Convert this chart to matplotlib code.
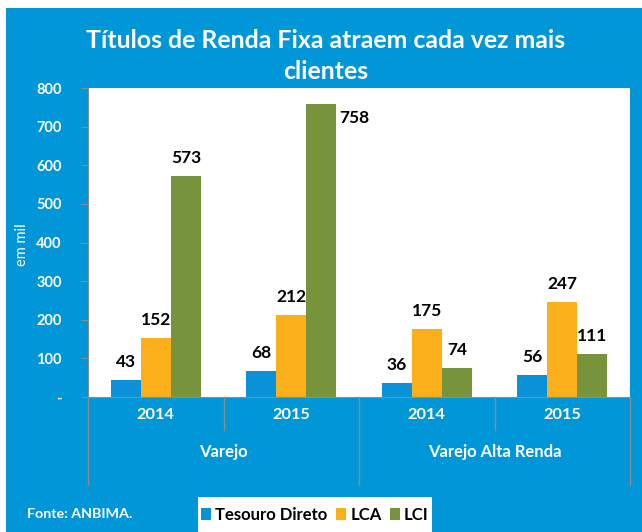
import matplotlib
matplotlib.use("Agg")
import matplotlib.pyplot as plt
from matplotlib.patches import Rectangle, Patch
from matplotlib.lines import Line2D
import matplotlib.transforms as mtransforms
import numpy as np

plt.rcParams['font.family'] = ['Lato', 'DejaVu Sans']

title = "Títulos de Renda Fixa atraem cada vez mais\nclientes"
years = ["2014", "2015", "2014", "2015"]
groups = ["Varejo", "Varejo Alta Renda"]
series_names = ["Tesouro Direto", "LCA", "LCI"]
tesouro = [43, 68, 36, 56]
lca = [152, 212, 175, 247]
lci = [573, 758, 74, 111]
yticks = [0, 100, 200, 300, 400, 500, 600, 700, 800]
ytick_labels = ["-", "100", "200", "300", "400", "500", "600", "700", "800"]
source = "Fonte: ANBIMA."
ylabel = "em mil"

BG = "#0096D8"
colors = ["#0A91D7", "#FBAF1A", "#77933C"]
GRAY = "#8C8C8C"

W, H = 642, 532
fig = plt.figure(figsize=(W / 100, H / 100), dpi=100, facecolor="white")
# blue panel
fig.patches.append(Rectangle((6 / W, 0), 1 - 6 / W, (H - 8) / H, transform=fig.transFigure,
                             facecolor=BG, edgecolor="none", zorder=-5))

ax = fig.add_axes([88 / W, (H - 397) / H, (630 - 88) / W, (397 - 88) / H])
ax.set_zorder(2)
ax.set_facecolor("white")
x = np.arange(len(years))
bw = 0.222
series = [tesouro, lca, lci]
for i, (vals, c) in enumerate(zip(series, colors)):
    xs = x + (i - 1) * bw
    ax.bar(xs, vals, width=bw, color=c, zorder=2)
    for xi, v in zip(xs, vals):
        if v > 700:
            ax.annotate(str(v), (xi + bw / 2, v), xytext=(2, -10), textcoords="offset points",
                        ha="left", va="center", fontsize=12.5, fontweight="bold", color="black")
        else:
            ax.annotate(str(v), (xi, v), xytext=(0, 13), textcoords="offset points",
                        ha="center", va="center", fontsize=12.5, fontweight="bold", color="black")

ax.set_xlim(-0.5, len(years) - 0.5)
ax.set_ylim(0, 800)
ax.set_yticks(yticks)
ax.set_yticklabels(ytick_labels, color="white", fontweight="bold", fontsize=10.5)
ax.tick_params(axis="y", length=5, color=GRAY, pad=14)
ax.set_xticks([])
for s in ["top", "right"]:
    ax.spines[s].set_visible(False)
ax.spines["left"].set_color(GRAY)
ax.spines["bottom"].set_color(GRAY)

# category axis (two-level)
trans = mtransforms.blended_transform_factory(ax.transData, ax.transAxes)
ah = 397 - 88
for b in [-0.5, 0.5, 1.5, 2.5, 3.5]:
    long_ = b in (-0.5, 1.5, 3.5)
    y1 = -(485 - 397) / ah if long_ else -(430 - 397) / ah
    ax.add_line(Line2D([b, b], [0, y1], transform=trans, color=GRAY, lw=1, clip_on=False))
for xi, yl in zip(x, years):
    ax.text(xi, -18 / ah, yl, transform=trans, ha="center", va="center", color="white",
            fontweight="bold", fontsize=11.8)
for gi, g in enumerate(groups):
    ax.text(gi * 2 + 0.5, -55 / ah, g, transform=trans, ha="center", va="center", color="white",
            fontweight="bold", fontsize=12)

fig.text(22 / W, (H - 245) / H, ylabel, rotation=90, ha="center", va="center", color="white",
         fontsize=10.5)

fig.text(326 / W, (H - 56) / H, title, ha="center", va="center", color="white",
         fontsize=17.9, fontweight="bold", linespacing=1.4)

fig.text(27 / W, (H - 514) / H, source, ha="left", va="center", color="white",
         fontsize=10.3, fontweight="bold")

# legend box
fig.patches.append(Rectangle((198 / W, 0), (432 - 198) / W, 35 / H, transform=fig.transFigure,
                             facecolor="white", edgecolor="none", zorder=1))
handles = [Patch(facecolor=c, edgecolor="none") for c in colors]
leg = fig.legend(handles, series_names, loc="center", bbox_to_anchor=(315 / W, (H - 515) / H),
                 ncol=3, frameon=False, handlelength=0.6, handleheight=0.7, handletextpad=0.25,
                 columnspacing=0.5, prop={"weight": "bold", "size": 12}, borderpad=0.2)
leg.set_zorder(5)

fig.savefig("out.png", dpi=100, facecolor=fig.get_facecolor())
